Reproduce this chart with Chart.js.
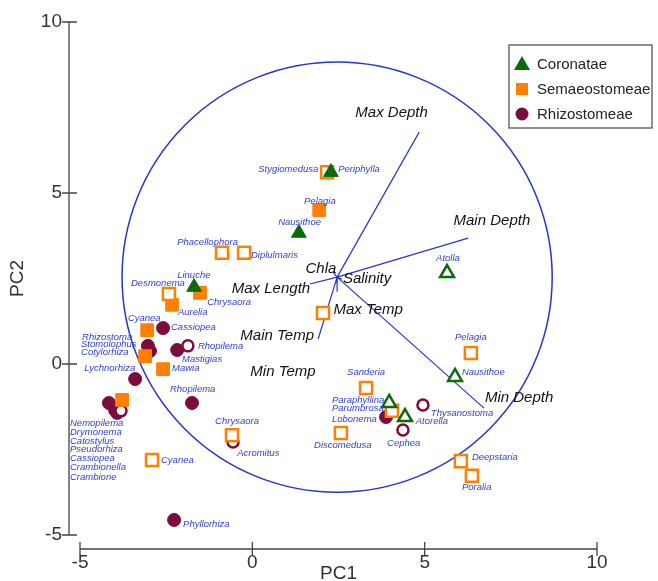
<!DOCTYPE html>
<html>
<head>
<meta charset="utf-8">
<script src="https://cdn.jsdelivr.net/npm/chart.js@4.4.1/dist/chart.umd.min.js"></script>
<style>
  html, body { margin: 0; padding: 0; background: #fff; }
  #wrap { width: 658px; height: 581px; }
</style>
</head>
<body>
<div id="wrap"><canvas id="pca"></canvas></div>
<script>
// axis ticks
const xTicks = [-5, 0, 5, 10];
const yTicks = [-5, 0, 5, 10];
const groups = ['Coronatae', 'Semaeostomeae', 'Rhizostomeae'];

// PCA scores [PC1, PC2], solid = filled symbol, open = hollow symbol
const coronataeSolid = [[2.28, 5.61], [1.35, 3.83], [-1.69, 2.25]];
const coronataeOpen = [[5.65, 2.66], [5.88, -0.38], [3.97, -1.14], [4.43, -1.55]];
const semaeSolid = [[1.94, 4.50], [-1.52, 2.08], [-2.33, 1.73], [-3.05, 0.99], [-3.11, 0.23], [-2.59, -0.15], [-3.78, -1.05]];
const semaeOpen = [[2.17, 5.61], [-0.88, 3.25], [-0.24, 3.25], [-2.42, 2.05], [2.05, 1.49], [6.34, 0.32], [3.30, -0.70],
  [4.05, -1.37], [2.57, -2.02], [-0.59, -2.08], [-2.91, -2.81], [6.05, -2.84], [6.37, -3.27]];
const rhizoSolid = [[-2.59, 1.05], [-3.03, 0.53], [-2.97, 0.38], [-2.18, 0.41], [-3.40, -0.44], [-4.16, -1.14],
  [-3.98, -1.35], [-3.92, -1.43], [-1.75, -1.14], [-2.27, -4.56], [3.88, -1.55]];
const rhizoOpen = [[-1.87, 0.53], [-3.81, -1.37], [-0.56, -2.28], [4.37, -1.93], [4.95, -1.20]];

// environmental loadings (vectors from a common origin)
const loadOrigin = [2.46, 2.54];
const circleRadius = 6.24;
const envVars = ['Max Depth', 'Main Depth', 'Max Length', 'Main Temp', 'Min Depth', 'Max Temp', 'Chla', 'Salinity', 'Min Temp'];
const envEndX = [4.84, 6.26, 1.67, 1.91, 6.72, 2.46, 2.34, 2.60, 2.43];
const envEndY = [6.78, 3.68, 2.34, 0.73, -1.29, 2.11, 2.69, 2.48, 2.37];
const envLabelX = [4.04, 6.95, 0.54, 0.72, 7.74, 3.36, 1.99, 3.33, 0.89];
const envLabelY = [7.34, 4.18, 2.19, 0.82, -0.99, 1.58, 2.78, 2.49, -0.23];

// species names, anchored at their left edge
const speciesLabels = [
  ['Stygiomedusa', 0.17, 5.70], ['Periphylla', 2.49, 5.70], ['Pelagia', 1.50, 4.77], ['Nausithoe', 0.75, 4.15],
  ['Phacellophora', -2.18, 3.57], ['Diplulmaris', -0.04, 3.19], ['Linuche', -2.18, 2.60], ['Desmonema', -3.52, 2.37],
  ['Chrysaora', -1.31, 1.81], ['Aurelia', -2.16, 1.52], ['Cyanea', -3.61, 1.32], ['Cassiopea', -2.36, 1.08],
  ['Rhopilema', -1.58, 0.53], ['Mastigias', -2.04, 0.15], ['Mawia', -2.33, -0.12], ['Rhopilema', -2.39, -0.73],
  ['Chrysaora', -1.08, -1.67], ['Acromitus', -0.44, -2.60], ['Cyanea', -2.65, -2.81], ['Atolla', 5.33, 3.10],
  ['Pelagia', 5.88, 0.79], ['Nausithoe', 6.08, -0.23], ['Sanderia', 2.75, -0.23], ['Paraphyllina', 2.31, -1.05],
  ['Parumbrosa', 2.31, -1.29], ['Lobonema', 2.31, -1.61], ['Discomedusa', 1.79, -2.37], ['Cephea', 3.91, -2.31],
  ['Thysanostoma', 5.18, -1.43], ['Atorella', 4.74, -1.67], ['Deepstaria', 6.37, -2.72], ['Poralia', 6.08, -3.60],
  ['Rhizostoma', -4.94, 0.79], ['Stomolophus', -4.97, 0.58], ['Cotylorhiza', -4.97, 0.35], ['Lychnorhiza', -4.88, -0.12],
  ['Nemopilema', -5.29, -1.73], ['Drymonema', -5.29, -1.99], ['Catostylus', -5.29, -2.25], ['Pseudorhiza', -5.29, -2.49],
  ['Cassiopea', -5.29, -2.75], ['Crambionella', -5.29, -3.01], ['Crambione', -5.29, -3.30], ['Phyllorhiza', -2.01, -4.68]
];

const GREEN = '#0b6a0b';
const ORANGE = '#ff8000';
const MAROON = '#7b0d3c';
const BLUE = '#2634c8';
const LABEL_BLUE = '#2f3fcf';
const FONT = '"Liberation Sans", Arial, sans-serif';

const toPts = arr => arr.map(p => ({ x: p[0], y: p[1] }));

function solid(label, data, color, style, r) {
  return { label, data: toPts(data), pointStyle: style, pointRadius: r, pointHoverRadius: r,
    backgroundColor: color, borderColor: color, pointBorderWidth: 1 };
}
function hollow(label, data, color, style, r) {
  return { label, data: toPts(data), pointStyle: style, pointRadius: r, pointHoverRadius: r,
    backgroundColor: '#ffffff', borderColor: color, pointBorderWidth: 2.5 };
}

const decor = {
  id: 'decor',
  beforeDatasetsDraw(chart) {
    const { ctx, scales: { x, y } } = chart;
    const ox = x.getPixelForValue(loadOrigin[0]);
    const oy = y.getPixelForValue(loadOrigin[1]);
    const r = x.getPixelForValue(loadOrigin[0] + circleRadius) - ox;
    ctx.save();
    ctx.strokeStyle = BLUE;
    ctx.lineWidth = 1.5;
    ctx.beginPath();
    ctx.arc(ox, oy, r, 0, Math.PI * 2);
    ctx.stroke();
    ctx.lineWidth = 1.2;
    envVars.forEach((v, i) => {
      ctx.beginPath();
      ctx.moveTo(ox, oy);
      ctx.lineTo(x.getPixelForValue(envEndX[i]), y.getPixelForValue(envEndY[i]));
      ctx.stroke();
    });
    ctx.fillStyle = '#111';
    ctx.font = 'italic 15px ' + FONT;
    ctx.textAlign = 'center';
    ctx.textBaseline = 'middle';
    envVars.forEach((v, i) => {
      ctx.fillText(v, x.getPixelForValue(envLabelX[i]), y.getPixelForValue(envLabelY[i]));
    });
    ctx.restore();
  },
  afterDatasetsDraw(chart) {
    const { ctx, scales: { x, y } } = chart;
    ctx.save();
    ctx.fillStyle = LABEL_BLUE;
    ctx.font = 'italic 9.5px ' + FONT;
    ctx.textAlign = 'left';
    ctx.textBaseline = 'middle';
    speciesLabels.forEach(([t, lx, ly]) => {
      ctx.fillText(t, x.getPixelForValue(lx), y.getPixelForValue(ly));
    });
    ctx.restore();
  },
  afterDraw(chart) {
    const { ctx, chartArea: a, scales: { x, y } } = chart;
    ctx.save();
    ctx.strokeStyle = '#444';
    ctx.fillStyle = '#333';
    ctx.lineWidth = 1.3;
    // y axis, offset to the left
    const ax = a.left - 11;
    ctx.beginPath();
    ctx.moveTo(ax, y.getPixelForValue(10));
    ctx.lineTo(ax, y.getPixelForValue(-5));
    yTicks.forEach(t => {
      const py = y.getPixelForValue(t);
      ctx.moveTo(ax - 7, py);
      ctx.lineTo(ax + 8, py);
    });
    // x axis, offset downward
    const ay = a.bottom + 14;
    ctx.moveTo(x.getPixelForValue(-5), ay);
    ctx.lineTo(x.getPixelForValue(10), ay);
    xTicks.forEach(t => {
      const px = x.getPixelForValue(t);
      ctx.moveTo(px, ay - 7);
      ctx.lineTo(px, ay + 7);
    });
    ctx.stroke();

    ctx.font = '19px ' + FONT;
    ctx.textBaseline = 'middle';
    ctx.textAlign = 'right';
    yTicks.forEach(t => ctx.fillText(String(t), ax - 7, y.getPixelForValue(t)));
    ctx.textAlign = 'center';
    xTicks.forEach(t => ctx.fillText(String(t), x.getPixelForValue(t), ay + 14));
    ctx.fillText('PC1', x.getPixelForValue(2.5), ay + 25);
    ctx.save();
    ctx.translate(18, y.getPixelForValue(2.5));
    ctx.rotate(-Math.PI / 2);
    ctx.fillText('PC2', 0, 0);
    ctx.restore();

    // legend box
    const lx = 509, ly = 45, lw = 143, lh = 83;
    ctx.fillStyle = '#fff';
    ctx.fillRect(lx, ly, lw, lh);
    ctx.strokeStyle = '#555';
    ctx.lineWidth = 1.3;
    ctx.strokeRect(lx, ly, lw, lh);
    const colors = [GREEN, ORANGE, MAROON];
    groups.forEach((g, i) => {
      const cy = ly + 19 + i * 25;
      const mx = lx + 13;
      ctx.fillStyle = colors[i];
      ctx.beginPath();
      if (i === 0) {
        ctx.moveTo(mx, cy - 8);
        ctx.lineTo(mx + 8, cy + 6);
        ctx.lineTo(mx - 8, cy + 6);
        ctx.closePath();
      } else if (i === 1) {
        ctx.rect(mx - 6, cy - 6, 12, 12);
      } else {
        ctx.arc(mx, cy, 6.5, 0, Math.PI * 2);
      }
      ctx.fill();
      ctx.fillStyle = '#222';
      ctx.font = '15px ' + FONT;
      ctx.textAlign = 'left';
      ctx.fillText(g, lx + 28, cy + 1);
    });
    ctx.restore();
  }
};

new Chart(document.getElementById('pca'), {
  type: 'scatter',
  data: {
    datasets: [
      solid('Coronatae', coronataeSolid, GREEN, 'triangle', 8.5),
      hollow('Coronatae', coronataeOpen, GREEN, 'triangle', 8),
      hollow('Semaeostomeae', semaeOpen, ORANGE, 'rect', 8.5),
      solid('Semaeostomeae', semaeSolid, ORANGE, 'rect', 9),
      hollow('Rhizostomeae', rhizoOpen, MAROON, 'circle', 5.5),
      solid('Rhizostomeae', rhizoSolid, MAROON, 'circle', 6.5)
    ]
  },
  options: {
    responsive: true,
    maintainAspectRatio: false,
    animation: false,
    layout: { padding: { left: 80, right: 61, top: 22, bottom: 46 } },
    scales: {
      x: { type: 'linear', min: -5, max: 10, display: false },
      y: { type: 'linear', min: -5, max: 10, display: false }
    },
    plugins: { legend: { display: false }, tooltip: { enabled: false } }
  },
  plugins: [decor]
});
</script>
</body>
</html>
